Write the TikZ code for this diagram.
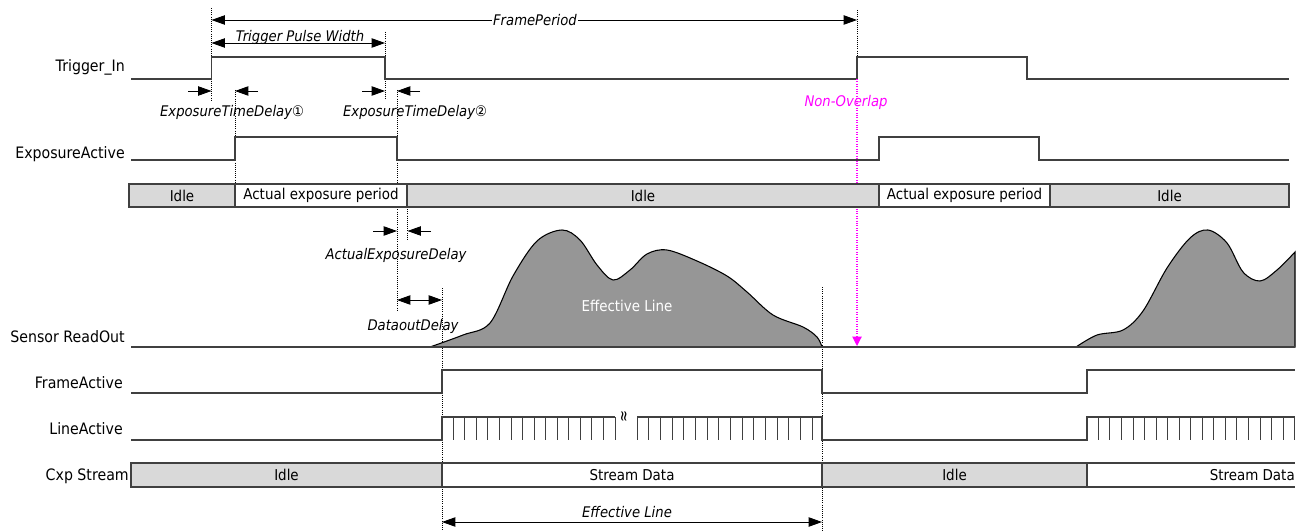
\documentclass[tikz,border=0pt]{standalone}
\usepackage{fontspec}
\setmainfont{DejaVu Sans}[FakeStretch=0.9]
\usetikzlibrary{arrows.meta}
\definecolor{sigc}{HTML}{404040}
\definecolor{barg}{HTML}{D9D9D9}
\definecolor{wavec}{HTML}{969696}
\definecolor{mag}{HTML}{FF00FF}
\begin{document}
\begin{tikzpicture}[x=0.75pt,y=-0.75pt,
  sig/.style={draw=sigc,line width=1.1pt},
  dotl/.style={densely dotted,line width=0.6pt},
  dimr/.style={-{Triangle[length=10pt,width=7pt]},line width=0.7pt},
  dimb/.style={{Triangle[length=10pt,width=7pt]}-{Triangle[length=10pt,width=7pt]},line width=0.7pt},
  lab/.style={font=\fontsize{11.8}{14}\selectfont,anchor=east,inner sep=0pt},
  ital/.style={font=\fontsize{11}{13}\selectfont\itshape,inner sep=0.5pt},
  bartxt/.style={font=\fontsize{11.2}{13}\selectfont,inner sep=0pt},
  grayseg/.style={draw=sigc,fill=barg,line width=0.9pt},
  whiteseg/.style={draw=sigc,fill=white,line width=0.9pt},
  tick/.style={draw=sigc,line width=0.7pt}]
\useasboundingbox (0,0) rectangle (1308,531);

% ---------- vertical dotted guide lines ----------
\draw[dotl] (211.5,8) -- (211.5,100);
\draw[dotl] (385,32) -- (385,100);
\draw[dotl] (857,10) -- (857,57);
\draw[dotl] (235,90) -- (235,184);
\draw[dotl] (397,90) -- (397,310);
\draw[dotl] (407,207) -- (407,241);
\draw[dotl] (442,288) -- (442,531);
\draw[dotl] (822,287) -- (822,531);

% ---------- Frame period ----------
\coordinate (fpL) at (211.5,20);
\coordinate (fpR) at (857,20);
\draw[dimb] (fpL) -- (fpR);
\node[ital,fill=white] (fp) at (535,20) {FramePeriod};

% ---------- Trigger pulse width ----------
\coordinate (tpL) at (211.5,43);
\coordinate (tpR) at (385,43);
\draw[dimb] (tpL) -- (tpR);
\node[ital,anchor=base] (tpw) at (300,42) {Trigger Pulse Width};

% ---------- Trigger_In ----------
\node[lab] (ltrig) at (125,67) {Trigger\_In};
\draw[sig] (131,79) -- (211.5,79) -- (211.5,57) -- (385,57) -- (385,79)
  -- (857,79) -- (857,57) -- (1027,57) -- (1027,79) -- (1289,79);

% ---------- exposure time delays ----------
\coordinate (d1a) at (188,91); \coordinate (d1b) at (211.5,91);
\coordinate (d1c) at (258,91); \coordinate (d1d) at (235,91);
\draw[dimr] (d1a) -- (d1b);
\draw[dimr] (d1c) -- (d1d);
\node[ital] (etd1) at (232,112) {ExposureTimeDelay①};
\coordinate (d2a) at (362,91); \coordinate (d2b) at (385,91);
\coordinate (d2c) at (420,91); \coordinate (d2d) at (397,91);
\draw[dimr] (d2a) -- (d2b);
\draw[dimr] (d2c) -- (d2d);
\node[ital] (etd2) at (415,112) {ExposureTimeDelay②};

% ---------- ExposureActive ----------
\node[lab] (lexp) at (125,154) {ExposureActive};
\draw[sig] (131,160) -- (235,160) -- (235,137) -- (397,137) -- (397,160)
  -- (879,160) -- (879,137) -- (1039,137) -- (1039,160) -- (1289,160);

% ---------- Non-Overlap ----------
\coordinate (noT) at (857,79);
\coordinate (noB) at (857,346);
\draw[mag,densely dotted,line width=0.8pt,-{Triangle[length=7pt,width=7pt]}] (noT) -- (noB);
\node[ital,text=mag] (nol) at (846,102) {Non-Overlap};

% ---------- exposure status bar ----------
\draw[grayseg] (129,184) rectangle (235,207);
\draw[whiteseg] (235,184) rectangle (407,207);
\draw[grayseg] (407,184) rectangle (879,207);
\draw[whiteseg] (879,184) rectangle (1050,207);
\draw[grayseg] (1050,184) rectangle (1289,207);
\node[bartxt] (s1) at (182,195.5) {Idle};
\node[bartxt] (s2) at (321,195.5) {Actual exposure period};
\node[bartxt] (s3) at (643,195.5) {Idle};
\node[bartxt] (s4) at (964.5,195.5) {Actual exposure period};
\node[bartxt] (s5) at (1169.5,195.5) {Idle};

% ---------- Actual exposure delay ----------
\coordinate (aea) at (373,231); \coordinate (aeb) at (397,231);
\coordinate (aec) at (431,231); \coordinate (aed) at (407.5,231);
\draw[dimr] (aea) -- (aeb);
\draw[dimr] (aec) -- (aed);
\node[ital] (aedl) at (396,255) {ActualExposureDelay};

% ---------- Dataout delay ----------
\coordinate (ddL) at (397,300); \coordinate (ddR) at (442,300);
\draw[dimb] (ddL) -- (ddR);
\node[ital] (ddl) at (413,326) {DataoutDelay};

% ---------- Sensor readout ----------
\node[lab] (lsen) at (125,337) {Sensor ReadOut};
\draw[draw=black,fill=wavec,line width=0.8pt] plot[smooth,tension=0.55] coordinates {
  (430,347) (463,335) (490,323) (513,276) (537,241) (562,230) (580,240)
  (597,265) (613,280) (630,270) (647,254) (667,250) (697,261) (727,276)
  (747,292) (773,315) (803,327) (817,337) (822,347)} -- cycle;
\draw[draw=black,fill=wavec,line width=0.8pt] plot[smooth,tension=0.55] coordinates {
  (1076,347) (1097,335) (1123,330) (1143,311) (1167,268) (1190,238)
  (1208,230) (1227,243) (1243,272) (1260,281) (1277,270) (1295,252)}
  -- (1295,347) -- cycle;
\node[bartxt,text=white] (effw) at (627,306) {Effective Line};
\draw[sig] (131,347) -- (1295,347);

% ---------- FrameActive ----------
\node[lab] (lfa) at (123,383) {FrameActive};
\draw[sig] (131,393) -- (442,393) -- (442,370) -- (822,370) -- (822,393)
  -- (1087,393) -- (1087,370) -- (1295,370);

% ---------- LineActive ----------
\node[lab] (lla) at (123,429) {LineActive};
\draw[sig] (131,440) -- (442,440) -- (442,417) -- (615,417);
\foreach \k in {0,...,14} \draw[tick] (453.3+11.55*\k,417) -- (453.3+11.55*\k,440);
\node[font=\fontsize{12}{12}\selectfont,rotate=90,inner sep=0pt] (brk) at (625,416) {≈};
\draw[sig] (637,417) -- (822,417) -- (822,440) -- (1087,440) -- (1087,417) -- (1295,417);
\foreach \k in {0,...,15} \draw[tick] (637+11.67*\k,417) -- (637+11.67*\k,440);
\foreach \k in {0,...,17} \draw[tick] (1098.3+11.55*\k,417) -- (1098.3+11.55*\k,440);

% ---------- Cxp Stream ----------
\node[lab] (lcxp) at (129,476) {Cxp Stream};
\draw[grayseg] (131,463) rectangle (442,487);
\draw[whiteseg] (442,463) rectangle (822,487);
\draw[grayseg] (822,463) rectangle (1087,487);
\draw[whiteseg] (1087,463) -- (1295,463) (1087,487) -- (1295,487) (1087,463) -- (1087,487);
\node[bartxt] (c1) at (286.5,475) {Idle};
\node[bartxt] (c2) at (632,475) {Stream Data};
\node[bartxt] (c3) at (954.5,475) {Idle};
\node[bartxt,anchor=east] (c4) at (1295,475) {Stream Data};

% ---------- Effective line span ----------
\coordinate (elL) at (442,522); \coordinate (elR) at (822,522);
\draw[dimb] (elL) -- (elR);
\node[ital] (ell) at (627,512) {Effective Line};
\end{tikzpicture}
\end{document}
